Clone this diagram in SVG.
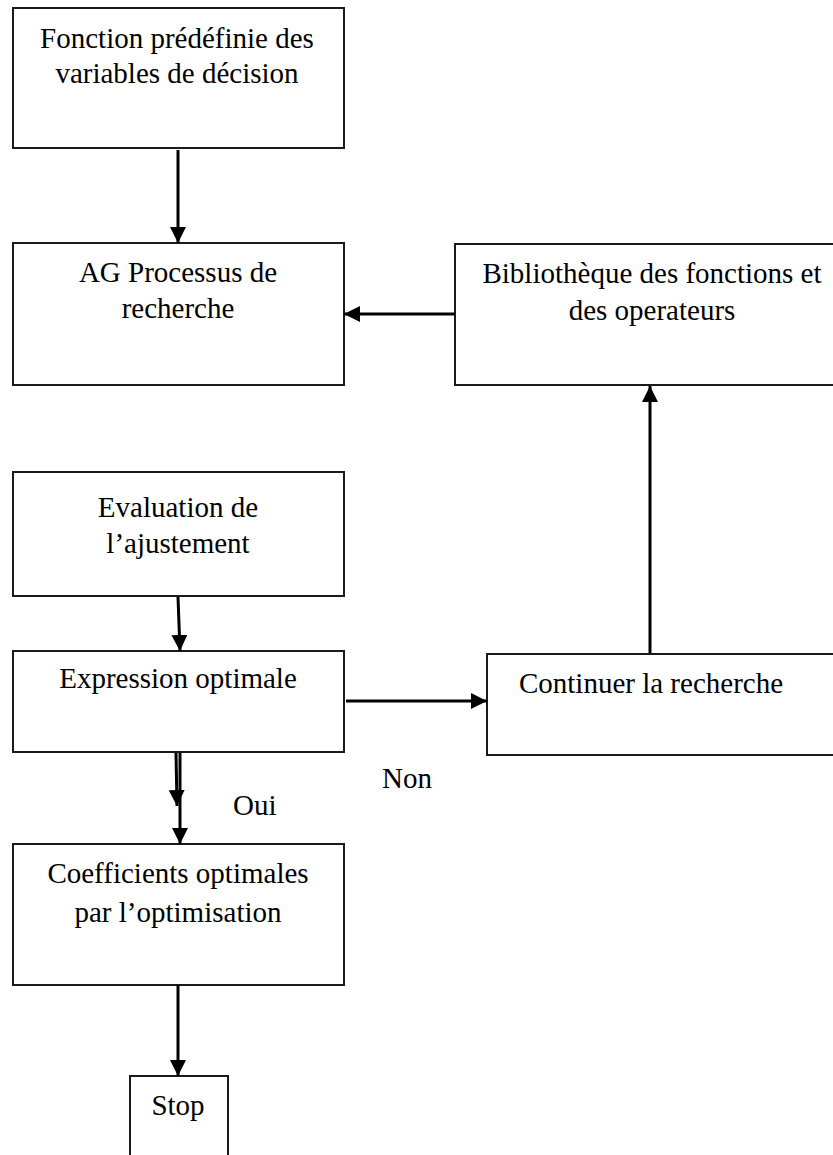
<svg xmlns="http://www.w3.org/2000/svg" width="833" height="1155" viewBox="0 0 833 1155">
<defs>
<marker id="ah" markerWidth="16" markerHeight="16" viewBox="0 0 16 16" refX="16" refY="8" orient="auto" markerUnits="userSpaceOnUse">
<path d="M0,0 L16,8 L0,16 Z" fill="#000"/>
</marker>
<style>
.box{fill:#fff;stroke:#1a1a1a;stroke-width:2}
.t{font-family:"Liberation Serif","Times New Roman",serif;font-size:29px;fill:#000;text-anchor:middle}
.tl{font-family:"Liberation Serif","Times New Roman",serif;font-size:29px;fill:#000}
.c{stroke:#000;stroke-width:3;fill:none}
</style>
</defs>
<rect width="833" height="1155" fill="#fff"/>
<g id="n1"><rect class="box" x="13" y="8" width="331" height="140"/>
<text class="t" x="177" y="48">Fonction prédéfinie des</text>
<text class="t" x="177" y="83">variables de décision</text></g>
<g id="n2"><rect class="box" x="13" y="243" width="331" height="142"/>
<text class="t" x="178" y="282">AG Processus de</text>
<text class="t" x="178" y="318">recherche</text></g>
<g id="n3"><rect class="box" x="455" y="244" width="380" height="141"/>
<text class="t" x="652" y="283">Bibliothèque des fonctions et</text>
<text class="t" x="652" y="320">des operateurs</text></g>
<g id="n4"><rect class="box" x="13" y="472" width="331" height="124"/>
<text class="t" x="178" y="517">Evaluation de</text>
<text class="t" x="178" y="553">l’ajustement</text></g>
<g id="n5"><rect class="box" x="13" y="651" width="331" height="101"/>
<text class="t" x="178" y="688">Expression optimale</text></g>
<g id="n6"><rect class="box" x="487" y="654" width="348" height="101"/>
<text class="t" x="651" y="693">Continuer la recherche</text></g>
<g id="n7"><rect class="box" x="13" y="844" width="331" height="141"/>
<text class="t" x="178" y="883">Coefficients optimales</text>
<text class="t" x="178" y="922">par l’optimisation</text></g>
<g id="n8"><rect class="box" x="130" y="1076" width="98" height="100"/>
<text class="t" x="178" y="1115">Stop</text></g>
<g id="labels">
<text class="tl" x="382" y="788">Non</text>
<text class="tl" x="233" y="815">Oui</text>
</g>
<g id="connectors">
<line class="c" x1="178" y1="150" x2="178" y2="243" marker-end="url(#ah)"/>
<line class="c" x1="455" y1="314" x2="344" y2="314" marker-end="url(#ah)"/>
<line class="c" x1="650" y1="653" x2="650" y2="386" marker-end="url(#ah)"/>
<line class="c" x1="178" y1="597" x2="180" y2="651" marker-end="url(#ah)"/>
<line class="c" x1="346" y1="701" x2="487" y2="701" marker-end="url(#ah)"/>
<line class="c" x1="176" y1="753" x2="177" y2="806" marker-end="url(#ah)"/>
<line class="c" x1="180" y1="753" x2="180" y2="844" marker-end="url(#ah)"/>
<line class="c" x1="178" y1="985" x2="178" y2="1076" marker-end="url(#ah)"/>
</g>
</svg>
